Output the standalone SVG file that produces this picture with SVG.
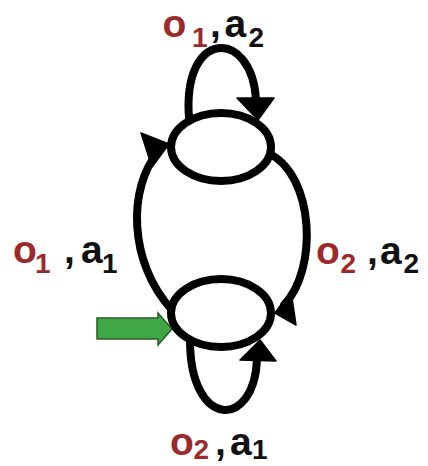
<svg xmlns="http://www.w3.org/2000/svg" width="428" height="466" viewBox="0 0 428 466">
<style>
.lbl{font-family:"Liberation Sans",Arial,sans-serif;font-weight:bold;font-size:39px;fill:#111}
.sub{font-size:28px}
.r{fill:#9c2a2b}
.edge{fill:none;stroke:#000;stroke-width:8;stroke-linecap:round}
.head{fill:#000;stroke:#000;stroke-width:1.5;stroke-linejoin:round}
.state{fill:#fff;stroke:#000;stroke-width:8}
</style>
<rect width="428" height="466" fill="#fff"/>
<g id="start-arrow">
<polygon points="97,318 158,318 158,313 172,329 158,345 158,339 97,339" fill="#3fa845" stroke="#2b5a2b" stroke-width="1.5"/>
</g>
<g id="connectors">
<path class="edge" d="M172,310 C128,262 128,188 158,152"/>
<polygon class="head" points="141,133 169,144 152,167"/>
<path class="edge" d="M268,153 C315,175 318,270 284,305"/>
<polygon class="head" points="291,291 296,325 275,313"/>
<path class="edge" d="M189,118 C182,28 252,28 256,100"/>
<polygon class="head" points="237,98 274,98 258,120"/>
<path class="edge" d="M190,340 C190,430 255,430 257,358"/>
<polygon class="head" points="260,340 240,360 276,361"/>
</g>
<g id="state-top">
<ellipse class="state" cx="221" cy="147" rx="50" ry="34"/>
</g>
<g id="state-bottom">
<ellipse class="state" cx="221" cy="313" rx="50" ry="34"/>
</g>
<g id="label-top">
<text class="lbl"><tspan class="r" x="162.5" y="37">o</tspan><tspan class="r sub" x="192" y="47">1</tspan><tspan x="210" y="37">,</tspan><tspan x="224.5" y="37">a</tspan><tspan class="sub" x="248.5" y="47">2</tspan></text>
</g>
<g id="label-left">
<text class="lbl"><tspan class="r" x="13" y="263">o</tspan><tspan class="r sub" x="35" y="273">1</tspan><tspan x="64" y="263">,</tspan><tspan x="81" y="263">a</tspan><tspan class="sub" x="102" y="273">1</tspan></text>
</g>
<g id="label-right">
<text class="lbl"><tspan class="r" x="316" y="264">o</tspan><tspan class="r sub" x="340.5" y="273">2</tspan><tspan x="367" y="264">,</tspan><tspan x="380" y="264">a</tspan><tspan class="sub" x="403.5" y="273">2</tspan></text>
</g>
<g id="label-bottom">
<text class="lbl"><tspan class="r" x="170" y="455">o</tspan><tspan class="r sub" x="193.5" y="459">2</tspan><tspan x="215" y="455">,</tspan><tspan x="230" y="455">a</tspan><tspan class="sub" x="252" y="459">1</tspan></text>
</g>
</svg>
